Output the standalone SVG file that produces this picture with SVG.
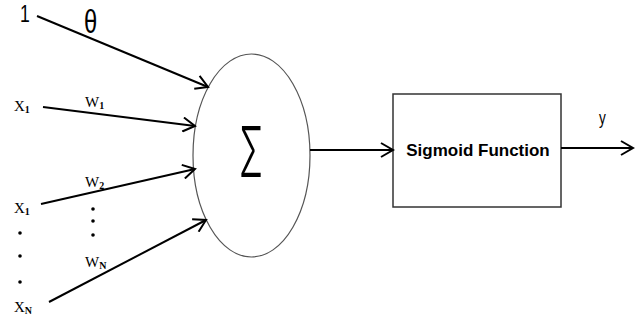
<svg xmlns="http://www.w3.org/2000/svg" width="643" height="324" viewBox="0 0 643 324">
<style>
.ln{stroke:#000;stroke-width:2;fill:none;marker-end:url(#ah)}
.lbl{font-family:"Liberation Serif",serif;font-size:15px;fill:#000}
.sub{font-size:10px;font-weight:bold}
.dot{fill:#000}
</style>
<defs>
<marker id="ah" markerWidth="16" markerHeight="16" refX="14" refY="8" orient="auto" markerUnits="userSpaceOnUse">
<path d="M2,1 L14,8 L2,15" fill="none" stroke="#000" stroke-width="2"/>
</marker>
</defs>
<rect width="643" height="324" fill="#fff"/>
<g id="inputs">
<text x="0" y="0" transform="translate(20,22) scale(0.8,1.05)" font-family="Liberation Sans,sans-serif" font-size="22" fill="#000">1</text>
<text x="0" y="0" transform="translate(84,33) scale(0.85,1.2)" font-family="Liberation Sans,sans-serif" font-size="28" fill="#000">θ</text>
<text class="lbl" x="14" y="111">X<tspan class="sub" dy="2">1</tspan></text>
<text class="lbl" x="85" y="107">W<tspan class="sub" dy="2">1</tspan></text>
<text class="lbl" x="14" y="213">X<tspan class="sub" dy="2">1</tspan></text>
<text class="lbl" x="85" y="187">W<tspan class="sub" dy="2">2</tspan></text>
<text class="lbl" x="85" y="267">W<tspan class="sub" dy="2">N</tspan></text>
<text class="lbl" x="14" y="312">X<tspan class="sub" dy="2">N</tspan></text>
<circle class="dot" cx="93" cy="209" r="1.8"/>
<circle class="dot" cx="93" cy="221" r="1.8"/>
<circle class="dot" cx="93" cy="235" r="1.8"/>
<circle class="dot" cx="20" cy="233" r="1.8"/>
<circle class="dot" cx="20" cy="256" r="1.8"/>
<circle class="dot" cx="20" cy="282" r="1.8"/>
</g>
<g id="sum">
<ellipse cx="251.5" cy="155.5" rx="58.5" ry="101.5" fill="#fff" stroke="#555" stroke-width="1.2"/>
<text x="0" y="0" transform="translate(251,177) scale(0.5,1)" text-anchor="middle" font-family="Inter,Liberation Sans,sans-serif" font-weight="300" font-size="70" fill="#000">Σ</text>
</g>
<g id="sigmoid">
<rect x="393" y="94" width="168" height="113" fill="#fff" stroke="#333" stroke-width="1.5"/>
<text x="478" y="156" text-anchor="middle" font-family="Liberation Sans,sans-serif" font-size="17" font-weight="bold" fill="#000">Sigmoid Function</text>
</g>
<g id="output">
<text x="0" y="0" transform="translate(599,124) scale(0.85,1.2)" font-family="Liberation Sans,sans-serif" font-size="16" fill="#000">y</text>
</g>
<g id="connectors">
<line class="ln" x1="37" y1="16" x2="208" y2="87"/>
<line class="ln" x1="43" y1="107" x2="195" y2="126"/>
<line class="ln" x1="41" y1="204" x2="195" y2="169"/>
<line class="ln" x1="49" y1="302" x2="206" y2="220"/>
<line class="ln" x1="310" y1="150" x2="393" y2="150"/>
<line class="ln" x1="561" y1="148" x2="633" y2="148"/>
</g>
</svg>
